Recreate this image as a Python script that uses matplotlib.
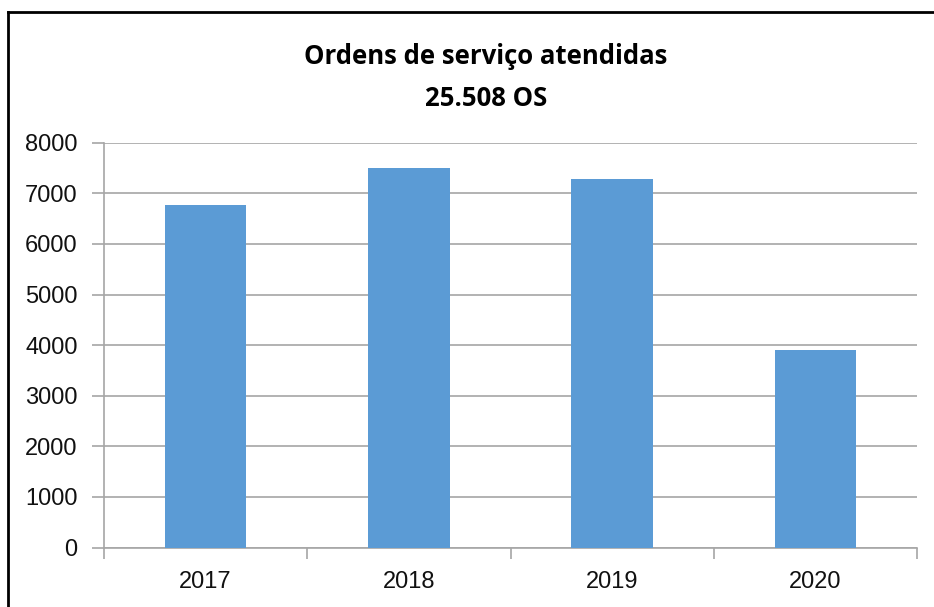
import matplotlib
matplotlib.use("Agg")
import matplotlib.pyplot as plt
from matplotlib.lines import Line2D
from matplotlib import font_manager

years = ["2017", "2018", "2019", "2020"]
values = [6775, 7506, 7277, 3897]
yticks = [0, 1000, 2000, 3000, 4000, 5000, 6000, 7000, 8000]
title_line1 = "Ordens de serviço atendidas"
title_line2 = "25.508 OS"

names = {f.name for f in font_manager.fontManager.ttflist}
tick_font = "Liberation Sans Narrow" if "Liberation Sans Narrow" in names else "Liberation Sans"

fig = plt.figure(figsize=(9.34, 6.07), dpi=100)
ax = fig.add_axes([104/934, 59.5/607, (917-104)/934, (547.5-142.7)/607])

x = list(range(len(years)))
ax.bar(x, values, width=0.4, color="#5B9BD5", zorder=3)
ax.set_xlim(-0.5, len(years) - 0.5)
ax.set_ylim(0, 8000)
ax.set_yticks(yticks)
ax.set_yticklabels([str(v) for v in yticks])
ax.set_xticks([i - 0.5 for i in range(len(years) + 1)], minor=False)
ax.set_xticklabels([])
ax.set_xticks(x, minor=True)
ax.set_xticklabels(years, minor=True)

ax.grid(axis="y", color="#A6A6A6", linewidth=1.2, zorder=0)
for s in ["top", "right"]:
    ax.spines[s].set_visible(False)
for s in ["left", "bottom"]:
    ax.spines[s].set_color("#A6A6A6")
    ax.spines[s].set_linewidth(1.2)

ax.tick_params(axis="y", which="major", length=9, color="#A6A6A6", width=1.2,
               pad=10, labelsize=17)
ax.tick_params(axis="x", which="major", length=8, color="#A6A6A6", width=1.2)
ax.tick_params(axis="x", which="minor", length=0, pad=17, labelsize=17)
for lab in ax.get_yticklabels() + ax.get_xticklabels(minor=True):
    lab.set_fontfamily(tick_font)
    lab.set_color("#111111")

fig.text(486/934, 1 - 56/607, title_line1, ha="center", va="center",
         fontsize=18.5, fontweight="bold", family="Open Sans", color="black")
fig.text(486/934, 1 - 98/607, title_line2, ha="center", va="center",
         fontsize=18.5, fontweight="bold", family="Open Sans", color="black")

# outer chart border (left and top visible)
fig.add_artist(Line2D([8/934, 8/934], [0, 1 - 11.5/607], transform=fig.transFigure,
                      color="black", linewidth=2))
fig.add_artist(Line2D([8/934, 1], [1 - 11.5/607, 1 - 11.5/607], transform=fig.transFigure,
                      color="black", linewidth=2))

fig.savefig("out.png", dpi=100)
